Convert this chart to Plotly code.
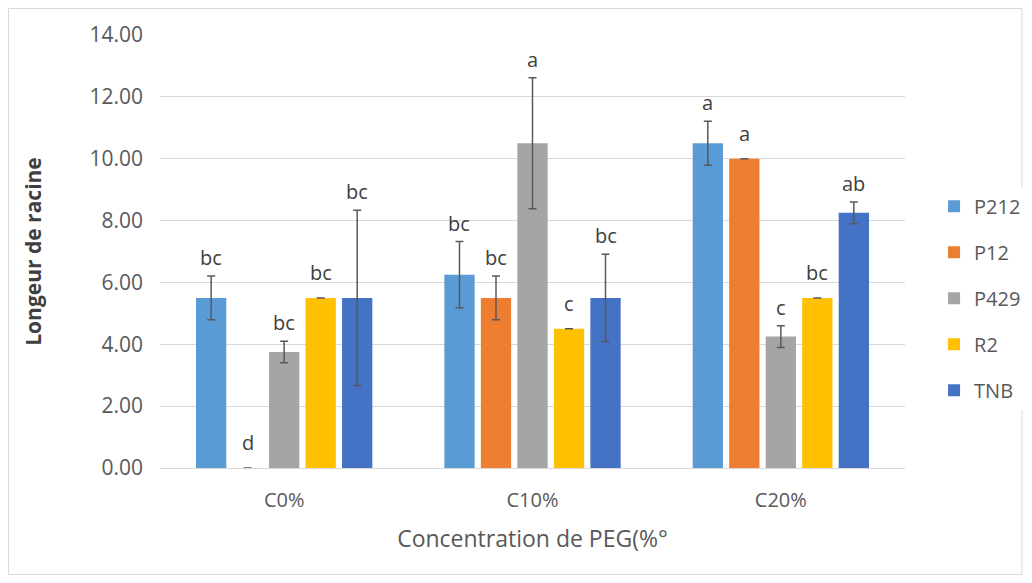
import plotly.graph_objects as go

categories = ["C0%", "C10%", "C20%"]
series_names = ["P212", "P12", "P429", "R2", "TNB"]
colors = ["#5B9BD5", "#ED7D31", "#A5A5A5", "#FFC000", "#4472C4"]

values = {
    "P212": [5.5, 6.25, 10.5],
    "P12": [0.0, 5.5, 10.0],
    "P429": [3.75, 10.5, 4.25],
    "R2": [5.5, 4.5, 5.5],
    "TNB": [5.5, 5.5, 8.25],
}
errors = {
    "P212": [0.71, 1.07, 0.71],
    "P12": [0.0, 0.71, 0.0],
    "P429": [0.35, 2.12, 0.35],
    "R2": [0.0, 0.0, 0.0],
    "TNB": [2.83, 1.41, 0.35],
}
letters = {
    "P212": ["bc", "bc", "a"],
    "P12": ["d", "bc", "a"],
    "P429": ["bc", "a", "c"],
    "R2": ["bc", "c", "bc"],
    "TNB": ["bc", "bc", "ab"],
}
y_ticks = [0, 2, 4, 6, 8, 10, 12, 14]

# page body has an 8px margin, so the figure is sized accordingly
W, H = 1016, 567
ml, mt = 152, 27
pw, ph = 745, 433
mr = W - ml - pw
mb = H - mt - ph
bargap = 0.265
bargroupgap = 0.17
FONT = "Open Sans, Calibri, sans-serif"

fig = go.Figure()
for i, name in enumerate(series_names):
    fig.add_trace(go.Bar(
        name=name, x=categories, y=values[name], marker_color=colors[i],
        marker_line_width=0, legendgroup=name,
        error_y=dict(type="data", array=errors[name], visible=True,
                     color="#595959", thickness=1.5, width=4),
    ))

n = len(series_names)
slot = (1 - bargap) / n
annotations = []
for i, name in enumerate(series_names):
    for ci, cat in enumerate(categories):
        err = errors[name][ci]
        top = values[name][ci] + err
        annotations.append(dict(
            x=ci + (i - (n - 1) / 2) * slot, y=top, xref="x", yref="y",
            text=letters[name][ci], showarrow=False, yanchor="bottom",
            yshift=(10 if err == 0 else 3),
            font=dict(size=20, color="#404040", family=FONT),
        ))

fig.add_shape(type="rect", xref="paper", yref="paper",
              x0=(0.5 - ml) / pw, x1=(1014 - ml) / pw,
              y0=(H - mb - 566.5) / ph, y1=(H - mb - 0.5) / ph,
              line=dict(color="#d9d9d9", width=1), layer="below")

fig.update_layout(
    width=W, height=H,
    margin=dict(l=ml, r=mr, t=mt, b=mb, autoexpand=False),
    paper_bgcolor="white", plot_bgcolor="white",
    barmode="group", bargap=bargap, bargroupgap=bargroupgap,
    font=dict(family=FONT, color="#595959"),
    annotations=annotations,
    showlegend=True,
    legend=dict(x=1.039, y=0.392, xanchor="left", yanchor="middle",
                font=dict(size=20, color="#595959"), tracegroupgap=17,
                itemwidth=30),
    xaxis=dict(
        showline=True, linecolor="#d9d9d9", linewidth=1, ticks="",
        tickfont=dict(size=20, color="#595959"), ticklabelstandoff=14,
        title=dict(text="Concentration de PEG(%°", font=dict(size=23, color="#595959"), standoff=18),
    ),
    yaxis=dict(
        range=[0, 14], tickvals=y_ticks, ticktext=[f"{v:.2f}" for v in y_ticks],
        showgrid=True, gridcolor="#d9d9d9", gridwidth=1, zeroline=False,
        tickfont=dict(size=21, color="#595959"), ticklabelstandoff=16,
        title=dict(text="<b>Longeur de racine</b>", font=dict(size=21, color="#404040"), standoff=42),
    ),
)

fig.write_html("out.html")
